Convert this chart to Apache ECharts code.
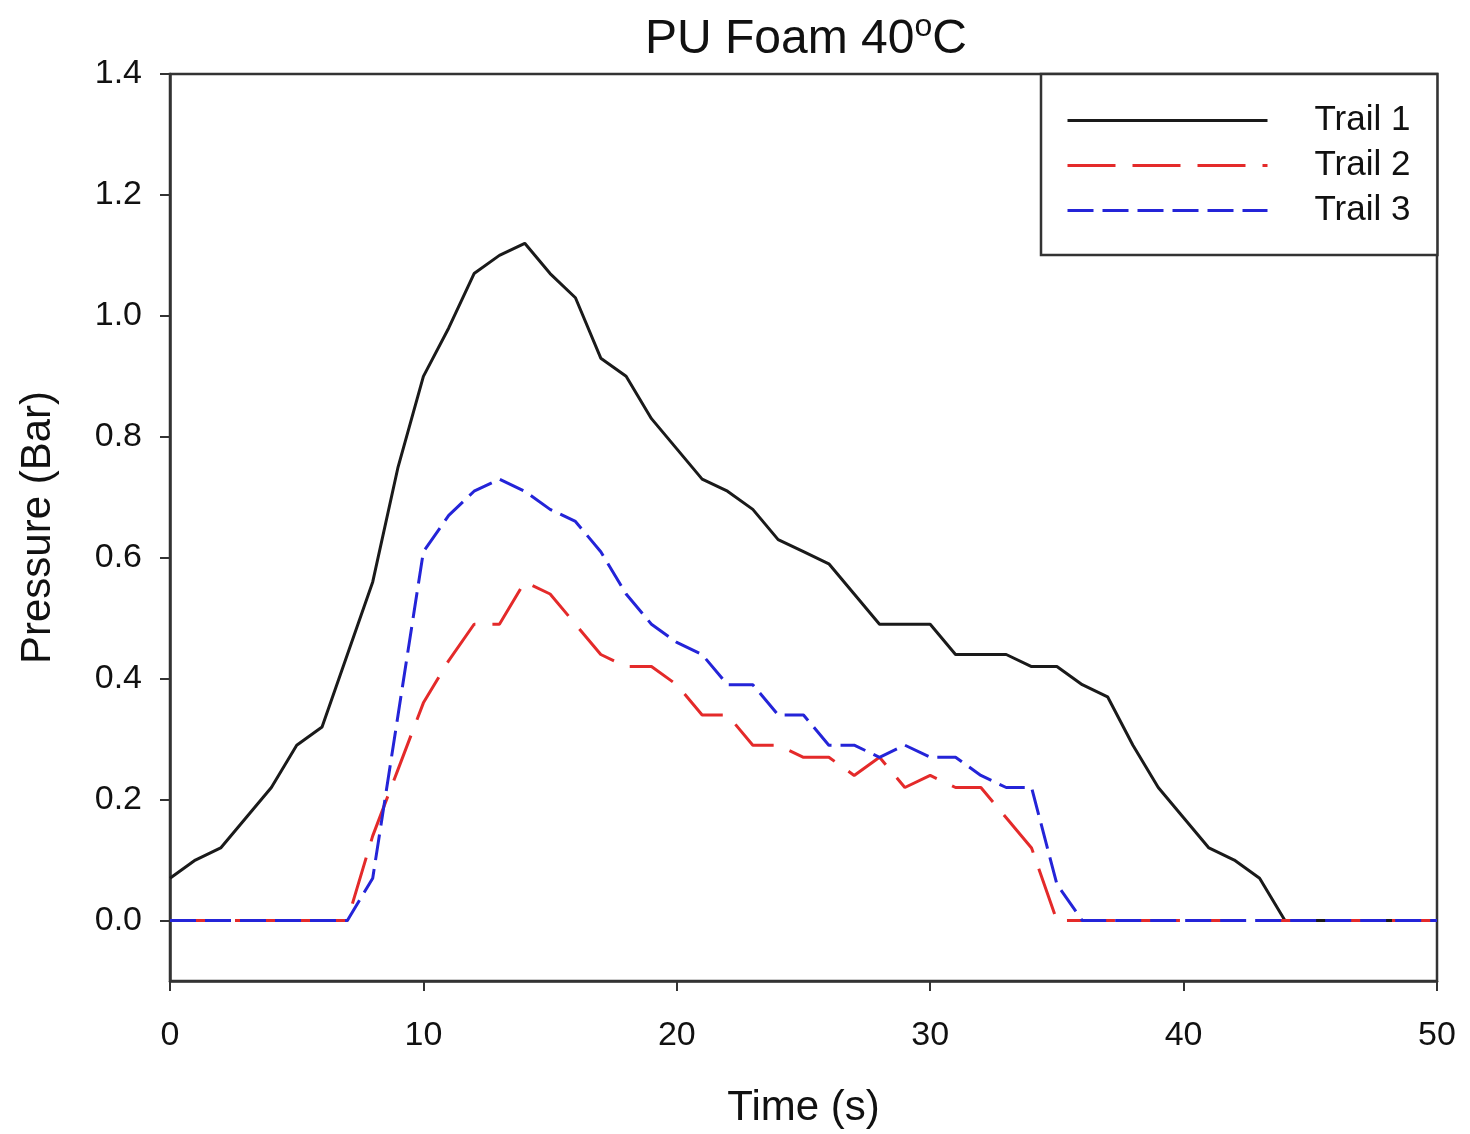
<!DOCTYPE html>
<html>
<head>
<meta charset="utf-8">
<script src="https://cdn.jsdelivr.net/npm/echarts@6/dist/echarts.min.js"></script>
<style>
  html, body { margin: 0; padding: 0; background: #fff; }
  #chart { width: 1470px; height: 1134px; }
</style>
</head>
<body>
<div id="chart"></div>
<script>
// time in seconds, one reading per second
var time = [];
for (var i = 0; i <= 50; i++) time.push(i);

var trail1 = [0.07, 0.10, 0.12, 0.17, 0.22, 0.29, 0.32, 0.44, 0.56, 0.75,
              0.90, 0.98, 1.07, 1.10, 1.12, 1.07, 1.03, 0.93, 0.90, 0.83,
              0.78, 0.73, 0.71, 0.68, 0.63, 0.61, 0.59, 0.54, 0.49, 0.49,
              0.49, 0.44, 0.44, 0.44, 0.42, 0.42, 0.39, 0.37, 0.29, 0.22,
              0.17, 0.12, 0.10, 0.07, 0, 0, 0, 0, 0, 0, 0];
var trail2 = [0, 0, 0, 0, 0, 0, 0, 0, 0.14, 0.25,
              0.36, 0.43, 0.49, 0.49, 0.56, 0.54, 0.49, 0.44, 0.42, 0.42,
              0.39, 0.34, 0.34, 0.29, 0.29, 0.27, 0.27, 0.24, 0.27, 0.22,
              0.24, 0.22, 0.22, 0.17, 0.12, 0, 0, 0, 0, 0,
              0, 0, 0, 0, 0, 0, 0, 0, 0, 0, 0];
var trail3 = [0, 0, 0, 0, 0, 0, 0, 0, 0.07, 0.34,
              0.61, 0.67, 0.71, 0.73, 0.71, 0.68, 0.66, 0.61, 0.54, 0.49,
              0.46, 0.44, 0.39, 0.39, 0.34, 0.34, 0.29, 0.29, 0.27, 0.29,
              0.27, 0.27, 0.24, 0.22, 0.22, 0.06, 0, 0, 0, 0,
              0, 0, 0, 0, 0, 0, 0, 0, 0, 0, 0];
var yTicks = [0, 0.2, 0.4, 0.6, 0.8, 1.0, 1.2, 1.4];

function pairs(ys) {
  return time.map(function (t, k) { return [t, ys[k]]; });
}

var chart = echarts.init(document.getElementById('chart'), null, {renderer: 'canvas'});
var font = 'Liberation Sans, Arial, sans-serif';

var black = '#1a1a1a', red = '#e42a2a', blue = '#2424d8';
var dash2 = [48, 17], dash3 = [26, 9];

var option = {
  animation: false,
  backgroundColor: '#fff',
  textStyle: {fontFamily: font},
  title: {
    text: 'PU Foam 40{sup|o}C',
    left: 640,
    top: 6,
    textStyle: {
      fontFamily: font,
      fontSize: 48,
      fontWeight: 'normal',
      color: '#111',
      rich: {
        sup: {fontFamily: font, fontSize: 32, color: '#111', padding: [0, 0, 26, 0]}
      }
    }
  },
  grid: {
    left: 170, right: 33, top: 74, bottom: 151,
    show: true, borderColor: '#333', borderWidth: 2.5,
    containLabel: false
  },
  legend: {
    orient: 'vertical',
    left: 1041,
    top: 74,
    padding: [29, 27, 27, 25],
    itemGap: 10,
    itemWidth: 200,
    itemHeight: 20,
    backgroundColor: '#fff',
    borderColor: '#333',
    borderWidth: 2.5,
    itemStyle: {opacity: 0},
    textStyle: {fontFamily: font, fontSize: 35, color: '#111', padding: [0, 0, 0, 42], lineHeight: 35},
    data: [
      {name: 'Trail 1', lineStyle: {color: black, width: 3, type: 'solid'}},
      {name: 'Trail 2', lineStyle: {color: red, width: 3, type: dash2}},
      {name: 'Trail 3', lineStyle: {color: blue, width: 3, type: dash3}}
    ]
  },
  xAxis: {
    type: 'value',
    min: 0, max: 50, interval: 10,
    name: 'Time (s)',
    nameLocation: 'middle',
    nameGap: 106,
    nameTextStyle: {fontFamily: font, fontSize: 42, color: '#111'},
    axisLine: {show: true, onZero: false, lineStyle: {color: '#333', width: 2.5}},
    axisTick: {show: true, inside: false, length: 10, lineStyle: {color: '#333', width: 2}},
    axisLabel: {fontFamily: font, fontSize: 34, color: '#111', margin: 38},
    splitLine: {show: false}
  },
  yAxis: {
    type: 'value',
    min: -0.1, max: 1.4,
    name: 'Pressure (Bar)',
    nameLocation: 'middle',
    nameGap: 111,
    nameTextStyle: {fontFamily: font, fontSize: 42, color: '#111'},
    axisLine: {show: true, onZero: false, lineStyle: {color: '#333', width: 2.5}},
    axisTick: {show: true, length: 10, customValues: yTicks, lineStyle: {color: '#333', width: 2}},
    axisLabel: {
      fontFamily: font, fontSize: 34, color: '#111', margin: 28,
      customValues: yTicks,
      formatter: function (v) { return v.toFixed(1); }
    },
    splitLine: {show: false}
  },
  series: [
    {
      name: 'Trail 1', type: 'line', symbol: 'none',
      data: pairs(trail1),
      lineStyle: {color: black, width: 3, type: 'solid'},
      itemStyle: {color: black}
    },
    {
      name: 'Trail 2', type: 'line', symbol: 'none',
      data: pairs(trail2),
      lineStyle: {color: red, width: 3, type: dash2},
      itemStyle: {color: red}
    },
    {
      name: 'Trail 3', type: 'line', symbol: 'none',
      data: pairs(trail3),
      lineStyle: {color: blue, width: 3, type: dash3},
      itemStyle: {color: blue}
    }
  ]
};

chart.setOption(option);
</script>
</body>
</html>
